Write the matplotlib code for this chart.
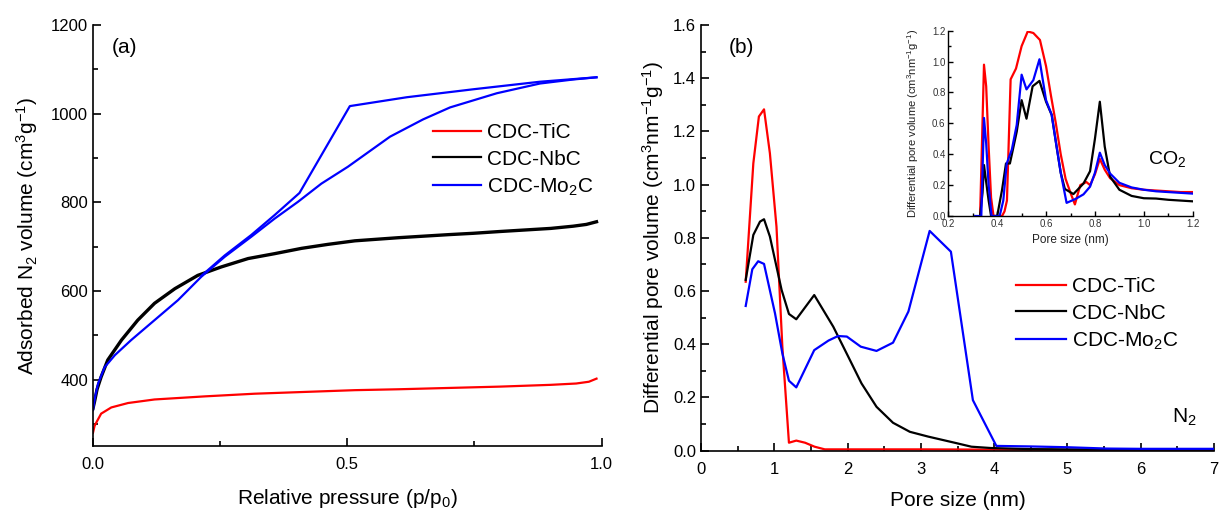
import matplotlib
matplotlib.use('Agg')
import matplotlib.pyplot as plt
from matplotlib.ticker import MultipleLocator

# ---------------- data ----------------
labels = ['CDC-TiC', 'CDC-NbC', 'CDC-Mo$_2$C']
colors = ['#ff0000', '#000000', '#0000ff']

# (a) N2 isotherms
tic_p = [0.0, 0.003, 0.007, 0.016, 0.036, 0.069, 0.121, 0.22, 0.318, 0.416, 0.515, 0.6, 0.7, 0.8, 0.9, 0.95, 0.975, 0.99]
tic_v = [280, 295, 304, 323, 337, 347, 355, 362, 368, 372, 376, 378, 381, 384, 388, 391, 395, 402]

nbc_p = [0.0, 0.003, 0.008, 0.016, 0.029, 0.056, 0.088, 0.121, 0.161, 0.206, 0.252, 0.305, 0.357, 0.41, 0.462,
         0.515, 0.6, 0.7, 0.748, 0.8, 0.9, 0.944, 0.97, 0.99]
nbc_v = [335, 350, 378, 406, 444, 489, 534, 572, 605, 635, 654, 673, 684, 696, 705,
         713, 720, 727, 730, 734, 741, 746, 750, 756]

mo_ads_p = [0.0, 0.004, 0.01, 0.023, 0.043, 0.075, 0.121, 0.167, 0.213, 0.259, 0.311, 0.357, 0.403, 0.449,
            0.501, 0.584, 0.649, 0.702, 0.794, 0.879, 0.944, 0.99]
mo_ads_v = [331, 360, 391, 428, 455, 489, 534, 579, 632, 677, 722, 763, 801, 842,
            880, 948, 987, 1014, 1046, 1068, 1077, 1082]
mo_des_p = [0.99, 0.879, 0.748, 0.617, 0.505, 0.406, 0.357, 0.311, 0.259, 0.213]
mo_des_v = [1082, 1072, 1055, 1037, 1017, 821, 771, 726, 680, 634]

# (b) N2 pore size distribution
tic_d = [0.61, 0.714, 0.79, 0.86, 0.94, 1.03, 1.11, 1.2, 1.30, 1.42, 1.55, 1.69, 2.0, 3.0, 4.0, 5.0, 6.0, 7.0]
tic_dv = [0.635, 1.08, 1.256, 1.283, 1.118, 0.842, 0.391, 0.030, 0.038, 0.03, 0.015, 0.005,
          0.005, 0.005, 0.004, 0.003, 0.003, 0.003]
nbc_d = [0.61, 0.714, 0.805, 0.86, 0.94, 1.03, 1.1, 1.2, 1.30, 1.545, 1.805, 2.01, 2.19, 2.395,
         2.62, 2.85, 3.1, 3.46, 3.69, 3.96, 4.5, 5.0, 6.0, 7.0]
nbc_dv = [0.642, 0.811, 0.861, 0.87, 0.805, 0.692, 0.604, 0.514, 0.494, 0.585, 0.466, 0.353, 0.253,
          0.165, 0.105, 0.071, 0.053, 0.03, 0.015, 0.01, 0.006, 0.005, 0.004, 0.004]
mo_d = [0.61, 0.70, 0.78, 0.86, 1.01, 1.11, 1.2, 1.30, 1.545, 1.74, 1.87, 1.99, 2.18, 2.395, 2.62,
        2.83, 3.12, 3.41, 3.71, 4.03, 4.5, 5.0, 5.54, 6.0, 7.0]
mo_dv = [0.544, 0.682, 0.712, 0.702, 0.516, 0.366, 0.263, 0.238, 0.378, 0.414, 0.431, 0.429, 0.391,
         0.375, 0.406, 0.523, 0.826, 0.748, 0.19, 0.018, 0.016, 0.013, 0.008, 0.007, 0.007]

# inset: CO2 pore size distribution
co2_tic_d = [0.33, 0.335, 0.346, 0.355, 0.365, 0.375, 0.385, 0.40, 0.42, 0.43, 0.44, 0.455, 0.477, 0.50,
             0.525, 0.548, 0.575, 0.60, 0.62, 0.64, 0.66, 0.68, 0.70, 0.718, 0.74, 0.765, 0.78, 0.80,
             0.82, 0.84, 0.862, 0.90, 0.95, 1.0, 1.05, 1.1, 1.15, 1.2]
co2_tic_v = [0.0, 0.30, 0.98, 0.84, 0.45, 0.12, 0.0, 0.0, 0.0, 0.03, 0.10, 0.885, 0.955, 1.10,
             1.195, 1.185, 1.14, 0.97, 0.78, 0.60, 0.40, 0.24, 0.15, 0.075, 0.20, 0.22, 0.20, 0.27,
             0.37, 0.30, 0.245, 0.20, 0.18, 0.17, 0.165, 0.16, 0.155, 0.155]
co2_nbc_d = [0.33, 0.34, 0.346, 0.355, 0.365, 0.375, 0.40, 0.42, 0.436, 0.452, 0.48, 0.50, 0.52, 0.545,
             0.573, 0.60, 0.623, 0.643, 0.66, 0.677, 0.712, 0.753, 0.78, 0.80, 0.82, 0.84, 0.862,
             0.90, 0.95, 1.0, 1.05, 1.1, 1.15, 1.2]
co2_nbc_v = [0.0, 0.15, 0.33, 0.22, 0.10, 0.0, 0.0, 0.17, 0.34, 0.34, 0.546, 0.75, 0.63, 0.84,
             0.875, 0.74, 0.655, 0.45, 0.28, 0.175, 0.142, 0.21, 0.29, 0.50, 0.74, 0.45, 0.255,
             0.17, 0.13, 0.115, 0.113, 0.105, 0.10, 0.095]
co2_mo_d = [0.31, 0.335, 0.346, 0.355, 0.365, 0.377, 0.40, 0.41, 0.425, 0.439, 0.46, 0.48, 0.50, 0.52,
            0.548, 0.573, 0.60, 0.623, 0.643, 0.66, 0.684, 0.72, 0.753, 0.78, 0.80, 0.82, 0.84,
            0.862, 0.90, 0.95, 1.0, 1.05, 1.1, 1.15, 1.2]
co2_mo_v = [0.0, 0.0, 0.635, 0.47, 0.20, 0.0, 0.0, 0.0, 0.10, 0.34, 0.43, 0.59, 0.915, 0.82,
            0.88, 1.015, 0.75, 0.655, 0.45, 0.28, 0.085, 0.11, 0.14, 0.19, 0.28, 0.41, 0.33,
            0.275, 0.215, 0.185, 0.17, 0.16, 0.155, 0.15, 0.145]

# ---------------- style ----------------
plt.rcParams['font.family'] = ['Liberation Sans', 'DejaVu Sans']
plt.rcParams['mathtext.fontset'] = 'custom'
plt.rcParams['mathtext.rm'] = 'Liberation Sans'
plt.rcParams['mathtext.it'] = 'Liberation Sans:italic'
plt.rcParams['mathtext.bf'] = 'Liberation Sans:bold'
plt.rcParams['mathtext.default'] = 'regular'

W, H = 1219, 512
fig = plt.figure(figsize=(W / 100, H / 100), dpi=100)


def frac(l, t, r, b):
    return [l / W, (H - b) / H, (r - l) / W, (b - t) / H]


def style_axes(ax, size=12, major=6, minor=3.5, lw=1.2):
    for s in ['top', 'right']:
        ax.spines[s].set_visible(False)
    for s in ['left', 'bottom']:
        ax.spines[s].set_linewidth(lw)
    ax.tick_params(which='both', direction='in', width=lw, labelsize=size, top=False, right=False)
    ax.tick_params(which='major', length=major)
    ax.tick_params(which='minor', length=minor)


LW = 1.6

# ---------------- panel (a) ----------------
ax1 = fig.add_axes(frac(93, 25, 601.6, 446))
ax1.plot(tic_p, tic_v, color=colors[0], lw=LW, label=labels[0])
ax1.plot(nbc_p, nbc_v, color=colors[1], lw=2.4, label=labels[1])
ax1.plot(mo_ads_p, mo_ads_v, color=colors[2], lw=LW, label=labels[2])
ax1.plot(mo_des_p, mo_des_v, color=colors[2], lw=LW)
ax1.set_xlim(0, 1.0)
ax1.set_ylim(250, 1200)
ax1.xaxis.set_major_locator(MultipleLocator(0.5))
ax1.xaxis.set_minor_locator(MultipleLocator(0.25))
ax1.yaxis.set_major_locator(MultipleLocator(200))
ax1.yaxis.set_minor_locator(MultipleLocator(100))
style_axes(ax1)
ax1.tick_params(axis='x', pad=8)
ax1.set_xlabel('Relative pressure (p/p$_0$)', fontsize=15, va='center')
ax1.xaxis.set_label_coords(0.5, -0.124)
ax1.set_ylabel('Adsorbed N$_2$ volume (cm$^3$g$^{-1}$)', fontsize=15, va='center')
ax1.yaxis.set_label_coords(-0.130, 0.5)
ax1.text(0.037, 1150, '(a)', fontsize=15, va='center', ha='left')
leg1 = ax1.legend(loc='upper left', bbox_to_anchor=(433 / W, 1 - 123 / H), bbox_transform=fig.transFigure,
                  frameon=False, fontsize=15, handlelength=2.3, handletextpad=0.3, labelspacing=0.37,
                  borderpad=0, borderaxespad=0)
for l in leg1.get_lines():
    l.set_linewidth(LW)

# ---------------- panel (b) ----------------
ax2 = fig.add_axes(frac(701, 25, 1214, 450.7))
ax2.plot(tic_d, tic_dv, color=colors[0], lw=LW, label=labels[0])
ax2.plot(nbc_d, nbc_dv, color=colors[1], lw=LW, label=labels[1])
ax2.plot(mo_d, mo_dv, color=colors[2], lw=LW, label=labels[2])
ax2.set_xlim(0, 7)
ax2.set_ylim(0, 1.6)
ax2.xaxis.set_major_locator(MultipleLocator(1))
ax2.xaxis.set_minor_locator(MultipleLocator(0.5))
ax2.yaxis.set_major_locator(MultipleLocator(0.2))
ax2.yaxis.set_minor_locator(MultipleLocator(0.1))
ax2.yaxis.set_major_formatter(matplotlib.ticker.FormatStrFormatter('%.1f'))
style_axes(ax2)
ax2.tick_params(axis='x', pad=8)
ax2.set_xlabel('Pore size (nm)', fontsize=15, va='center')
ax2.xaxis.set_label_coords(0.5, -0.116)
ax2.set_ylabel('Differential pore volume (cm$^3$nm$^{-1}$g$^{-1}$)', fontsize=15, va='center')
ax2.yaxis.set_label_coords(-0.094, 0.5)
ax2.text(0.38, 1.517, '(b)', fontsize=15, va='center', ha='left')
ax2.text(6.43, 0.124, 'N$_2$', fontsize=15, va='center', ha='left')
ax2.legend(loc='upper left', bbox_to_anchor=(1015.5 / W, 1 - 277 / H), bbox_transform=fig.transFigure,
           frameon=False, fontsize=15, handlelength=2.4, handletextpad=0.3, labelspacing=0.37,
           borderpad=0, borderaxespad=0)

# ---------------- inset ----------------
ax3 = fig.add_axes(frac(948.3, 30.7, 1192.7, 216))
ax3.plot(co2_tic_d, co2_tic_v, color=colors[0], lw=LW)
ax3.plot(co2_nbc_d, co2_nbc_v, color=colors[1], lw=LW)
ax3.plot(co2_mo_d, co2_mo_v, color=colors[2], lw=LW)
ax3.set_xlim(0.2, 1.2)
ax3.set_ylim(0, 1.2)
ax3.xaxis.set_major_locator(MultipleLocator(0.2))
ax3.xaxis.set_minor_locator(MultipleLocator(0.1))
ax3.yaxis.set_major_locator(MultipleLocator(0.2))
ax3.yaxis.set_minor_locator(MultipleLocator(0.1))
ax3.xaxis.set_major_formatter(matplotlib.ticker.FormatStrFormatter('%.1f'))
ax3.yaxis.set_major_formatter(matplotlib.ticker.FormatStrFormatter('%.1f'))
style_axes(ax3, size=7, major=3.5, minor=2, lw=1.0)
ax3.tick_params(pad=2, labelcolor='#333333')
ax3.set_xlabel('Pore size (nm)', fontsize=8.5, va='center', color='#222222')
ax3.xaxis.set_label_coords(0.5, -0.13)
ax3.set_ylabel('Differential pore volume (cm$^3$nm$^{-1}$g$^{-1}$)', fontsize=8, va='center', color='#222222')
ax3.yaxis.set_label_coords(-0.143, 0.5)
ax3.text(1.016, 0.37, 'CO$_2$', fontsize=14, va='center', ha='left')

fig.savefig('out.png', dpi=100)
